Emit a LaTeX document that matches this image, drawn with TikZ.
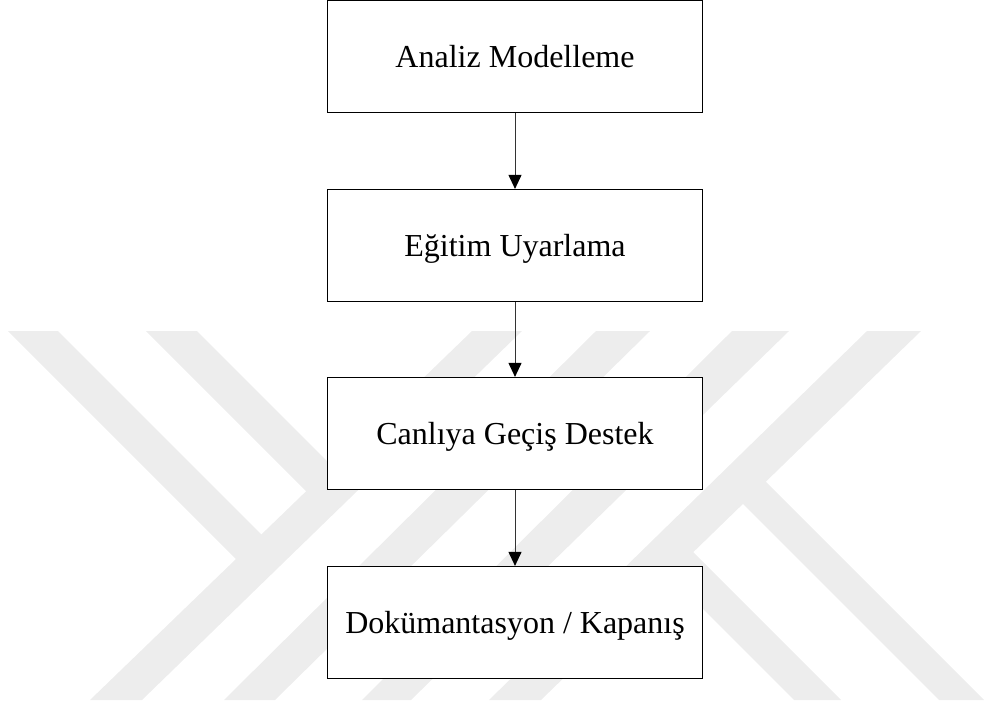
\documentclass[tikz,border=0pt]{standalone}
\usepackage{fontspec}
\setmainfont{Liberation Serif}
\usetikzlibrary{arrows.meta}
\definecolor{markgray}{RGB}{237,237,237}
\tikzset{
  stage/.style={draw=black, line width=1.2pt, fill=white,
    minimum width=375pt, minimum height=112pt, inner sep=0pt,
    font=\fontsize{32}{38}\selectfont, text height=21.2pt, text depth=0pt},
  flow/.style={draw=black!80, line width=1pt,
    -{Triangle[width=13pt,length=14pt,black]}},
  band/.style={fill=markgray, draw=none}
}
\begin{document}
\begin{tikzpicture}[x=1pt,y=-1pt]
\useasboundingbox (0,0) rectangle (984,706);
% light striped emblem behind the chart
\fill[band] (472,331) -- (522,331) -- (142,700) -- (90,700) -- cycle;
\fill[band] (596,331) -- (650,331) -- (275,700) -- (224,700) -- cycle;
\fill[band] (732,331) -- (789,331) -- (411,700) -- (362,700) -- cycle;
\fill[band] (867,331) -- (921,331) -- (541,700) -- (489,700) -- cycle;
\fill[band] (8,331) -- (58,331) -- (265,538) -- (240,563) -- cycle;
\fill[band] (146,331) -- (197,331) -- (335,469) -- (309,494) -- cycle;
\fill[band] (666,572) -- (690,549) -- (841,700) -- (794,700) -- cycle;
\fill[band] (740,501) -- (763,479) -- (984,700) -- (939,700) -- cycle;
% process steps
\node[stage] (analiz) at (515,56.9) {Analiz Modelleme};
\node[stage] (egitim) at (515,245.5) {Eğitim Uyarlama};
\node[stage] (canli) at (515,433.5) {Canlıya Geçiş Destek};
\node[stage] (dokuman) at (515,622.5) {Dokümantasyon / Kapanış};
% connectors
\draw[flow] (analiz) -- (egitim);
\draw[flow] (egitim) -- (canli);
\draw[flow] (canli) -- (dokuman);
\end{tikzpicture}
\end{document}
